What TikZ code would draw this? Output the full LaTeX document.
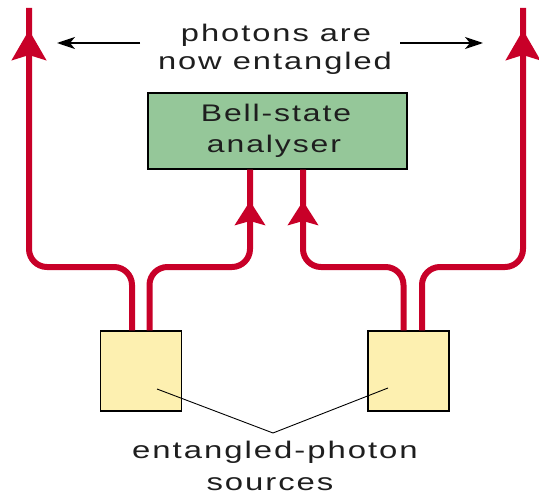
\documentclass[tikz,border=0pt]{standalone}
\usepackage{fontspec}
\setmainfont{Liberation Sans}
\newfontfamily\spaced[LetterSpace=6]{Liberation Sans}
\usetikzlibrary{arrows.meta}
\definecolor{photonred}{RGB}{200,0,40}
\definecolor{bellgreen}{RGB}{149,199,153}
\definecolor{srcyellow}{RGB}{253,240,176}
\definecolor{txtgray}{RGB}{30,30,30}
\begin{document}
\begin{tikzpicture}[x=1pt,y=-1pt,
  photon/.style={draw=photonred,line width=6pt,rounded corners=18pt},
  outhead/.style={draw=photonred,line width=6pt,-{Stealth[length=30pt,width=34pt,inset=5pt]}},
  inhead/.style={draw=photonred,line width=6pt,-{Stealth[length=24pt,width=30pt,inset=4pt]}},
  srcbox/.style={draw=black,line width=1.3pt,fill=srcyellow,minimum width=81pt,minimum height=80pt,inner sep=0pt},
  bellbox/.style={draw=black,line width=1.3pt,fill=bellgreen,minimum width=259pt,minimum height=76pt,inner sep=0pt},
  lbl/.style={inner sep=0pt,anchor=base,text=txtgray,font=\fontsize{24}{28}\selectfont\spaced},
  pointer/.style={draw=black,line width=1.3pt,-{Stealth[length=18pt,width=12pt,inset=5pt]}},
  leader/.style={draw=black,line width=0.9pt}]
\useasboundingbox (0,0) rectangle (539,495);
% boxes
\node[bellbox] (bell) at (277.5,131) {};
\node[srcbox] (s1) at (141,371) {};
\node[srcbox] (s2) at (408.5,371) {};
% free ends
\coordinate (topL) at (29,8);
\coordinate (topR) at (523,8);
% photon paths
\draw[photon] ([xshift=-9pt]s1.north) |- (29,267) -- (topL);
\draw[photon] ([xshift=8.5pt]s1.north) |- (250,267) -- ([xshift=-27.5pt]bell.south);
\draw[photon] ([xshift=-5pt]s2.north) |- (303,267) -- ([xshift=25.5pt]bell.south);
\draw[photon] ([xshift=13.5pt]s2.north) |- (523,267) -- (topR);
% arrowheads
\coordinate (aL) at (29,30);
\coordinate (aR) at (523,30);
\coordinate (aBL) at (250,201);
\coordinate (aBR) at (303,201);
\draw[outhead] (29,90) -- (aL);
\draw[outhead] (523,90) -- (aR);
\draw[inhead] (250,245) -- (aBL);
\draw[inhead] (303,245) -- (aBR);
% labels
\node[lbl] (t1) at (276,42) {\scalebox{1.36}[1]{photons are}};
\node[lbl] (t2) at (275,70) {\scalebox{1.36}[1]{now entangled}};
\node[lbl] (b1) at (276,122) {\scalebox{1.33}[1]{Bell-state}};
\node[lbl] (b2) at (274,153) {\scalebox{1.33}[1]{analyser}};
\node[lbl] (e1) at (275,458) {\scalebox{1.37}[1]{entangled-photon}};
\node[lbl] (e2) at (270,490) {\scalebox{1.37}[1]{sources}};
% pointers
\coordinate (pL) at (57,43);
\coordinate (pR) at (483,43);
\draw[pointer] (140,43) -- (pL);
\draw[pointer] (400,43) -- (pR);
% leader lines
\coordinate (m) at (273,433);
\draw[leader] ([shift={(16,18)}]s1.center) -- (m) -- ([shift={(-20.5,17)}]s2.center);
\end{tikzpicture}
\end{document}
